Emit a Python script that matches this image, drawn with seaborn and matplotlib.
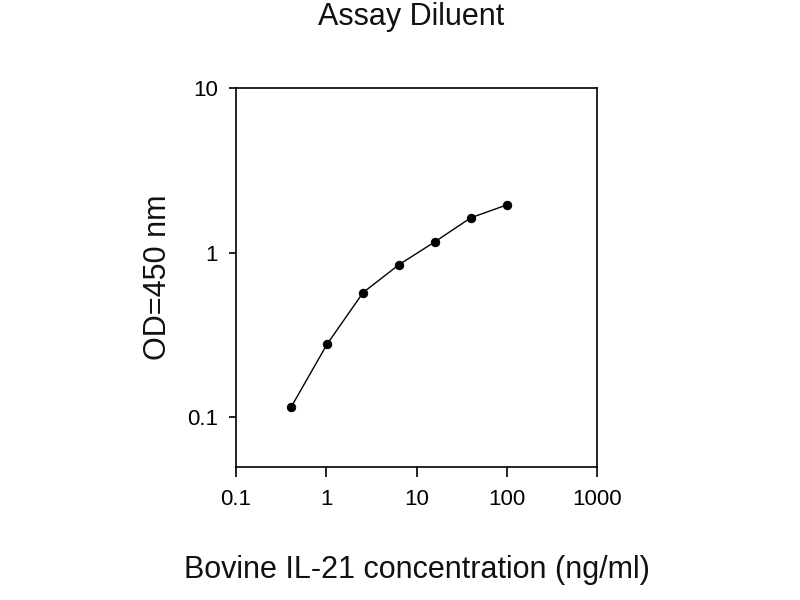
import matplotlib
matplotlib.use("Agg")
import matplotlib.pyplot as plt
import seaborn as sns
import pandas as pd

concentration = [0.41, 1.02, 2.56, 6.4, 16, 40, 100]
od450 = [0.116, 0.278, 0.573, 0.846, 1.165, 1.63, 1.95]
x_ticks = [0.1, 1, 10, 100, 1000]
x_tick_labels = ["0.1", "1", "10", "100", "1000"]
y_ticks = [0.1, 1, 10]
y_tick_labels = ["0.1", "1", "10"]

sns.set_theme(style="white")
plt.rcParams['font.family'] = ['Liberation Sans', 'DejaVu Sans']

df = pd.DataFrame({"conc": concentration, "od": od450})

fig = plt.figure(figsize=(8, 6), dpi=100)
ax = fig.add_axes([236/800, 1-467/600, (597-236)/800, (467-88)/600])
sns.lineplot(data=df, x="conc", y="od", ax=ax, color="black", linewidth=1.0,
             marker="o", markersize=6, markeredgecolor="black")
ax.set_xscale("log")
ax.set_yscale("log")
ax.set_xlim(0.1, 1000)
ax.set_ylim(0.05, 10)
ax.set_xticks(x_ticks)
ax.set_xticklabels(x_tick_labels)
ax.set_yticks(y_ticks)
ax.set_yticklabels(y_tick_labels)
ax.minorticks_off()
for s in ax.spines.values():
    s.set_color("black")
    s.set_linewidth(1.2)
ax.tick_params(axis="x", bottom=True, direction="out", length=7, width=1.2, colors="black",
               labelsize=16, pad=9)
ax.tick_params(axis="y", left=True, direction="out", length=5, width=1.2, colors="black",
               labelsize=16, pad=8)
ax.set_xlabel("Bovine IL-21 concentration (ng/ml)", fontsize=22, labelpad=32, color="#111111")
ax.set_ylabel("OD=450 nm", fontsize=22, labelpad=10, color="#111111")
ax.grid(False)
fig.text(411/800, 1-17/600, "Assay Diluent", fontsize=22, ha="center", va="center", color="#111111")
fig.savefig("out.png", dpi=100)
